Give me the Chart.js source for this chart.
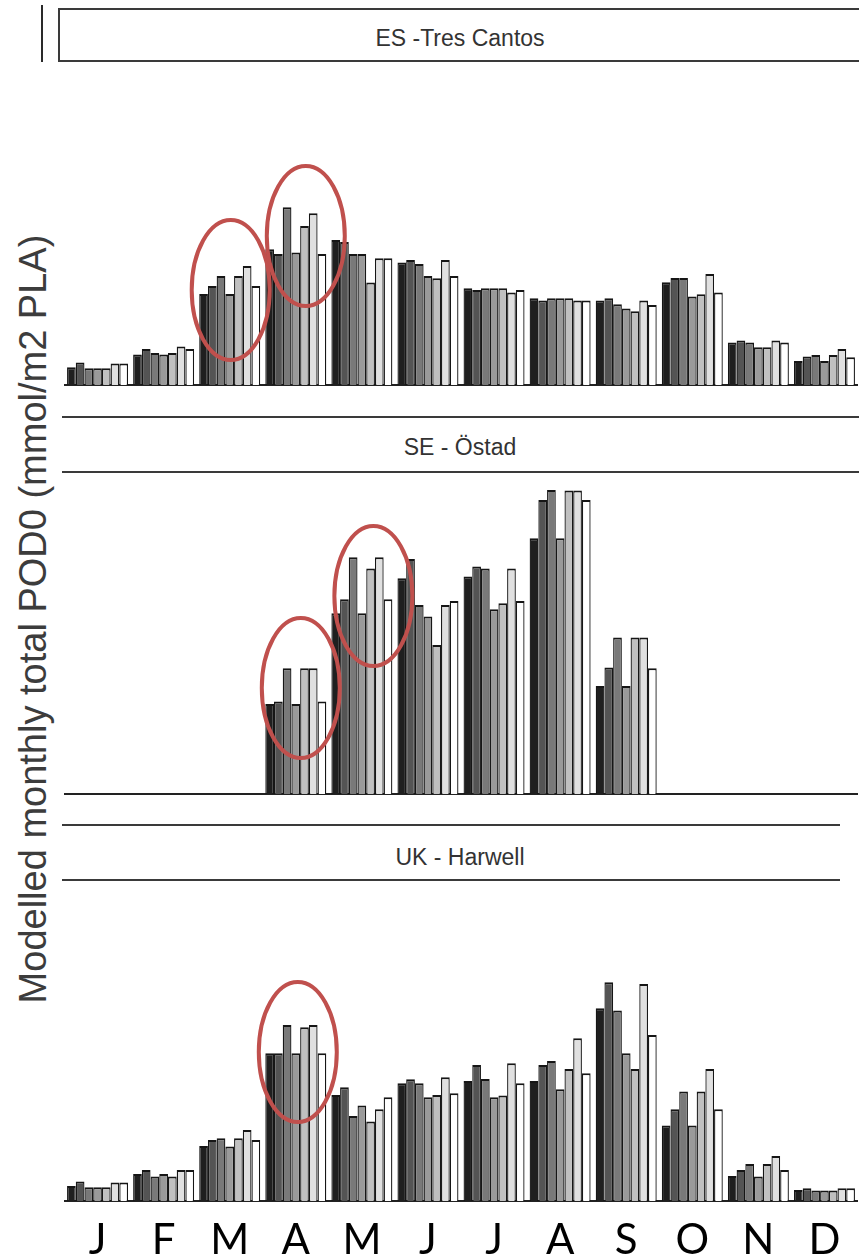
<!DOCTYPE html>
<html>
<head>
<meta charset="utf-8">
<script src="https://cdn.jsdelivr.net/npm/chart.js@4.4.1/dist/chart.umd.min.js"></script>
<style>
  html, body { margin: 0; padding: 0; background: #fff; }
  body { width: 859px; height: 1258px; overflow: hidden; position: relative;
         font-family: "Liberation Sans", Arial, sans-serif; }
  canvas { position: absolute; left: 0; }
  .box { position: absolute; box-sizing: border-box; }
  .site { position: absolute; width: 400px; margin-left: -200px; text-align: center;
          font-size: 23px; line-height: 23px; color: #333; white-space: nowrap; }
  #ytitle { position: absolute; width: 860px; height: 38px; line-height: 38px;
            font-size: 38px; color: #3c3c3c; text-align: center; white-space: nowrap;
            transform: rotate(-90deg); transform-origin: 50% 50%; }
</style>
</head>
<body>
  <!-- strip headers for the three sites -->
  <div class="box" style="left:41px;top:5px;width:2px;height:57px;background:#2a2a2a"></div>
  <div class="box" style="left:58px;top:8px;width:804px;height:54px;border:2px solid #3a3a3a"></div>
  <div class="site" style="left:460px;top:27px">ES -Tres Cantos</div>

  <div class="box" style="left:62px;top:416px;width:797px;height:57px;border-top:2px solid #3a3a3a;border-bottom:2px solid #3a3a3a"></div>
  <div class="site" style="left:460px;top:436px">SE - Östad</div>

  <div class="box" style="left:62px;top:824px;width:778px;height:57px;border-top:2px solid #3a3a3a;border-bottom:2px solid #3a3a3a"></div>
  <div class="site" style="left:460px;top:846px">UK - Harwell</div>

  <div id="ytitle" style="left:-397px;top:600px">Modelled monthly total POD0 (mmol/m2 PLA)</div>

  <canvas id="es" width="859" height="318" style="top:70px"></canvas>
  <canvas id="se" width="859" height="319" style="top:478px"></canvas>
  <canvas id="uk" width="859" height="389" style="top:890px"></canvas>

<script>
// Month initials on the shared x axis
const months = ['J', 'F', 'M', 'A', 'M', 'J', 'J', 'A', 'S', 'O', 'N', 'D'];

// Seven model runs per month, one grey shade each (dark to white)
const runShades = ['#1f1f1f', '#545454', '#797979', '#9a9a9a', '#c0c0c0', '#e0e0e0', '#ffffff'];

// Monthly POD0 per site: one row per month, seven runs per row
const tresCantos = [
  [0.89, 1.12, 0.84, 0.84, 0.84, 1.07, 1.07],
  [1.52, 1.80, 1.60, 1.52, 1.60, 1.92, 1.80],
  [4.55, 4.95, 5.45, 4.55, 5.45, 5.95, 4.95],
  [6.79, 6.55, 8.89, 6.62, 7.95, 8.59, 6.55],
  [7.25, 7.15, 6.55, 6.55, 5.12, 6.34, 6.34],
  [6.12, 6.25, 6.05, 5.45, 5.34, 6.25, 5.45],
  [4.84, 4.75, 4.84, 4.84, 4.84, 4.62, 4.75],
  [4.34, 4.22, 4.34, 4.34, 4.34, 4.22, 4.22],
  [4.22, 4.34, 4.04, 3.82, 3.69, 4.22, 4.00],
  [5.14, 5.35, 5.35, 4.42, 4.54, 5.55, 4.62],
  [2.12, 2.22, 2.12, 1.89, 1.89, 2.22, 2.12],
  [1.20, 1.42, 1.50, 1.20, 1.50, 1.80, 1.39]
];

const ostad = [
  null,
  null,
  null,
  [4.50, 4.62, 6.29, 4.50, 6.29, 6.29, 4.62],
  [9.04, 9.74, 11.84, 9.04, 11.27, 11.84, 9.74],
  [10.79, 11.75, 9.45, 8.87, 7.45, 9.45, 9.65],
  [10.87, 11.37, 11.27, 9.24, 9.54, 11.27, 9.65],
  [12.79, 14.70, 15.20, 12.79, 15.17, 15.17, 14.70],
  [5.40, 6.32, 7.82, 5.40, 7.82, 7.82, 6.29],
  null,
  null,
  null
];

const harwell = [
  [0.75, 0.97, 0.69, 0.69, 0.69, 0.92, 0.92],
  [1.35, 1.55, 1.22, 1.35, 1.22, 1.55, 1.55],
  [2.75, 3.05, 3.14, 2.72, 3.14, 3.55, 3.05],
  [7.39, 7.39, 8.80, 7.39, 8.69, 8.80, 7.39],
  [5.30, 5.69, 4.25, 4.77, 3.97, 4.59, 5.19],
  [5.89, 6.09, 5.89, 5.19, 5.30, 6.19, 5.39],
  [6.00, 6.80, 6.10, 5.19, 5.27, 6.89, 5.89],
  [6.00, 6.80, 7.00, 5.59, 6.60, 8.14, 6.39],
  [9.64, 10.94, 9.52, 7.39, 6.60, 10.85, 8.30],
  [3.77, 4.59, 5.47, 3.77, 5.47, 6.60, 4.59],
  [1.25, 1.55, 1.85, 1.22, 1.85, 2.25, 1.55],
  [0.55, 0.64, 0.52, 0.52, 0.52, 0.64, 0.64]
];

// Red rings drawn around the highlighted spring months
const ringPlugin = {
  id: 'rings',
  afterDatasetsDraw(chart, args, opts) {
    const { ctx } = chart;
    const x = chart.scales.x, y = chart.scales.y;
    ctx.save();
    ctx.strokeStyle = opts.color;
    ctx.lineWidth = opts.width;
    (opts.items || []).forEach(it => {
      const cx = x.getPixelForValue(it.month) + it.dx;
      const cy = y.getPixelForValue(it.level);
      ctx.beginPath();
      ctx.ellipse(cx, cy, opts.rx, opts.ry, 0, 0, Math.PI * 2);
      ctx.stroke();
    });
    ctx.restore();
  }
};

function runDatasets(rows) {
  return runShades.map((shade, r) => ({
    label: 'run ' + (r + 1),
    data: rows.map(row => (row ? row[r] : null)),
    backgroundColor: shade,
    borderColor: '#161616',
    borderWidth: { top: 2, left: 1.3, right: 1.3, bottom: 0 },
    categoryPercentage: 0.923,
    barPercentage: 1
  }));
}

function sitePanel(id, rows, yMax, padding, showMonths, rings) {
  return new Chart(document.getElementById(id), {
    type: 'bar',
    data: { labels: months, datasets: runDatasets(rows) },
    options: {
      responsive: false,
      animation: false,
      devicePixelRatio: 1,
      layout: { padding },
      plugins: {
        legend: { display: false },
        tooltip: { enabled: false },
        rings: { items: rings, rx: 39, ry: 70, color: '#c0504d', width: 4 }
      },
      scales: {
        x: {
          grid: { display: false, drawTicks: false },
          border: { display: true, color: '#222', width: 2 },
          ticks: {
            display: showMonths,
            autoSkip: false,
            maxRotation: 0,
            padding: 18,
            color: '#000',
            font: { family: 'Lato, "Open Sans", sans-serif', size: 42, lineHeight: 1 }
          }
        },
        y: { display: false, min: 0, max: yMax }
      }
    },
    plugins: [ringPlugin]
  });
}

sitePanel('es', tresCantos, 14, { left: 64.5, right: 1.5, top: 35, bottom: 3 }, false,
  [{ month: 2, dx: 1, level: 4.75 }, { month: 3, dx: 10, level: 7.45 }]);
sitePanel('se', ostad, 15.5, { left: 64.5, right: 1.5, top: 6, bottom: 3 }, false,
  [{ month: 3, dx: 5, level: 5.3 }, { month: 4, dx: 11.5, level: 9.9 }]);
sitePanel('uk', harwell, 15, { left: 64.5, right: 1.5, top: 11, bottom: 0 }, true,
  [{ month: 3, dx: 2, level: 7.45 }]);
</script>
</body>
</html>
